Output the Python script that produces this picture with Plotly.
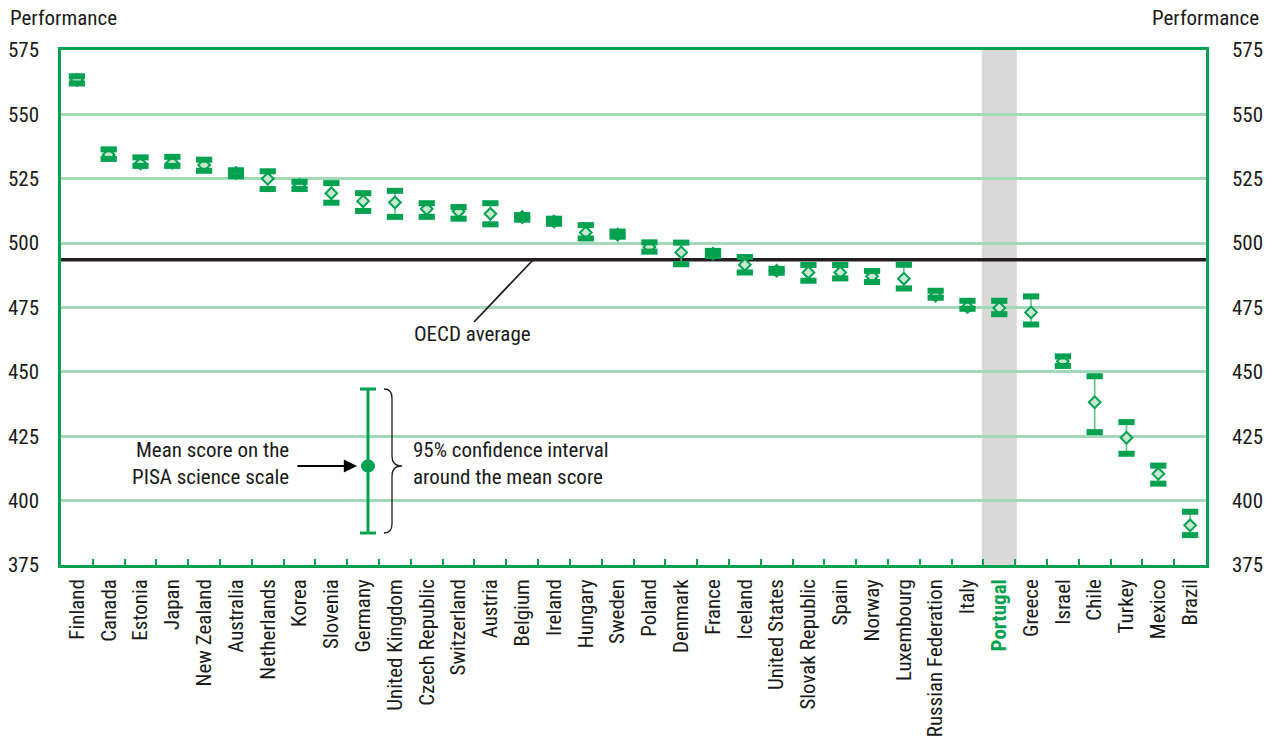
import plotly.graph_objects as go

countries = ["Finland", "Canada", "Estonia", "Japan", "New Zealand", "Australia", "Netherlands",
             "Korea", "Slovenia", "Germany", "United Kingdom", "Czech Republic", "Switzerland",
             "Austria", "Belgium", "Ireland", "Hungary", "Sweden", "Poland", "Denmark", "France",
             "Iceland", "United States", "Slovak Republic", "Spain", "Norway", "Luxembourg",
             "Russian Federation", "Italy", "Portugal", "Greece", "Israel", "Chile", "Turkey",
             "Mexico", "Brazil"]
mean_score = [563.4, 534.3, 530.9, 531.2, 530.3, 527.2, 525.0, 522.6, 519.4, 516.3, 515.8, 513.3,
              512.3, 511.4, 510.1, 508.4, 504.1, 503.3, 498.5, 496.4, 495.9, 491.6, 489.3, 488.6,
              488.6, 487.1, 486.2, 479.6, 475.2, 474.8, 473.1, 454.1, 438.2, 424.4, 410.4, 390.4]
ci_upper = [564.8, 536.4, 533.3, 533.5, 532.4, 528.3, 527.9, 523.8, 523.3, 519.4, 520.3, 515.5,
            514.0, 515.5, 510.9, 509.5, 507.0, 504.5, 500.3, 500.2, 497.0, 494.6, 490.0, 491.5,
            491.5, 489.2, 491.6, 481.5, 477.6, 477.6, 479.3, 456.0, 448.3, 430.5, 413.6, 395.7]
ci_lower = [562.0, 532.7, 530.0, 530.0, 528.1, 526.0, 521.0, 521.0, 515.7, 512.5, 510.2, 510.2,
            509.5, 507.3, 509.1, 507.5, 501.8, 502.5, 496.7, 491.8, 495.0, 488.6, 488.5, 485.4,
            486.3, 484.9, 482.4, 478.8, 474.5, 472.4, 468.4, 452.3, 426.6, 418.2, 406.6, 386.6]
oecd_average = 493.5
highlight = "Portugal"
y_ticks = [375, 400, 425, 450, 475, 500, 525, 550, 575]

GREEN = "#00A14F"
LIGHT = "#C6E7D1"
STEM = "#62C28A"
GRID = "#A4D9B8"
FONT = "Liberation Sans Narrow, Arial Narrow, Roboto Condensed, DejaVu Sans Condensed, sans-serif"

# page geometry: the browser adds an 8px body margin, so compensate
OFF = 8
W, H = 1273 - OFF, 747 - OFF
X0, X1, Y0, Y1 = 61, 1206, 50, 565   # plot area in page pixels
def px(x):
    return (x - X0) / (X1 - X0)
def py(y):
    return (Y1 - y) / (Y1 - Y0)

err_plus = [u - m for u, m in zip(ci_upper, mean_score)]
err_minus = [m - l for m, l in zip(mean_score, ci_lower)]

fig = go.Figure()
# stems
fig.add_trace(go.Scatter(
    x=countries, y=mean_score, mode="markers",
    marker=dict(size=1, color="rgba(0,0,0,0)"),
    error_y=dict(type="data", array=err_plus, arrayminus=err_minus, symmetric=False,
                 width=0, thickness=1.6, color=STEM),
    hoverinfo="skip", showlegend=False))
# means
fig.add_trace(go.Scatter(
    x=countries, y=mean_score, mode="markers",
    marker=dict(symbol="diamond", size=9, color=LIGHT, line=dict(color=GREEN, width=2)),
    showlegend=False))
# caps
fig.add_trace(go.Scatter(
    x=countries + countries, y=ci_upper + ci_lower, mode="markers",
    marker=dict(symbol="line-ew", size=11.6, color=GREEN, line=dict(color=GREEN, width=6)),
    hoverinfo="skip", showlegend=False))
# invisible trace for right axis
fig.add_trace(go.Scatter(x=countries, y=mean_score, yaxis="y2", mode="markers",
                         marker=dict(opacity=0), hoverinfo="skip", showlegend=False))

ticktext = [f"<b><span style='color:{GREEN}'>{c}</span></b>" if c == highlight else c
            for c in countries]
hi = countries.index(highlight)

shapes = [
    dict(type="rect", xref="x", yref="paper", x0=hi - 0.55, x1=hi + 0.55, y0=0, y1=1,
         fillcolor="#D9D9D9", line=dict(width=0), layer="below"),
    dict(type="rect", xref="paper", yref="paper", x0=px(104), x1=px(645), y0=py(545), y1=py(380),
         fillcolor="white", line=dict(width=0), layer="between"),
    dict(type="line", xref="paper", yref="y", x0=0, x1=1, y0=oecd_average, y1=oecd_average,
         line=dict(color="#231F20", width=3.5), layer="between"),
    dict(type="line", xref="paper", yref="paper", x0=px(533), y0=py(260), x1=px(474), y1=py(322),
         line=dict(color="#231F20", width=1.8)),
    # legend error bar
    dict(type="line", xref="paper", yref="paper", x0=px(368), x1=px(368), y0=py(389), y1=py(533),
         line=dict(color=GREEN, width=3)),
    dict(type="line", xref="paper", yref="paper", x0=px(360), x1=px(376), y0=py(389), y1=py(389),
         line=dict(color=GREEN, width=3)),
    dict(type="line", xref="paper", yref="paper", x0=px(360), x1=px(376), y0=py(533), y1=py(533),
         line=dict(color=GREEN, width=3)),
    dict(type="circle", xref="paper", yref="paper", xsizemode="pixel", ysizemode="pixel",
         xanchor=px(368), yanchor=py(466), x0=-7, x1=7, y0=-6.5, y1=6.5,
         fillcolor=GREEN, line=dict(width=0)),
    # curly brace
    dict(type="path", xref="paper", yref="paper",
         path=(f"M {px(384)},{py(389)} Q {px(392)},{py(389)} {px(392)},{py(398)} "
               f"L {px(392)},{py(456)} Q {px(392)},{py(466)} {px(402)},{py(466)} "
               f"Q {px(392)},{py(466)} {px(392)},{py(476)} "
               f"L {px(392)},{py(524)} Q {px(392)},{py(533)} {px(384)},{py(533)}"),
         line=dict(color="#231F20", width=1.3)),
]

annotations = [
    dict(text="Performance", xref="paper", yref="paper", x=px(8), y=py(18),
         xanchor="left", yanchor="middle", showarrow=False, font=dict(size=21)),
    dict(text="Performance", xref="paper", yref="paper", x=px(1261), y=py(18),
         xanchor="right", yanchor="middle", showarrow=False, font=dict(size=21)),
    dict(text="OECD average", xref="paper", yref="paper", x=px(472), y=py(334),
         xanchor="center", yanchor="middle", showarrow=False, font=dict(size=21)),
    dict(text="Mean score on the<br>PISA science scale", xref="paper", yref="paper",
         x=px(291), y=py(463), xanchor="right", yanchor="middle", align="right",
         showarrow=False, font=dict(size=21)),
    dict(text="95% confidence interval<br>around the mean score", xref="paper", yref="paper",
         x=px(411), y=py(463), xanchor="left", yanchor="middle", align="left",
         showarrow=False, font=dict(size=21)),
    dict(text="", xref="paper", yref="paper", x=px(357), y=py(466), ax=-61, ay=0,
         axref="pixel", ayref="pixel", showarrow=True, arrowhead=2, arrowsize=1.2,
         arrowwidth=2.2, arrowcolor="#000000", standoff=0),
]

fig.update_layout(
    width=W, height=H, autosize=False,
    margin=dict(l=X0 - OFF, r=W - (X1 - OFF), t=Y0 - OFF, b=H - (Y1 - OFF), pad=0,
                autoexpand=False),
    plot_bgcolor="white", paper_bgcolor="white",
    font=dict(family=FONT, size=21, color="#1a1a1a"),
    shapes=shapes, annotations=annotations,
    xaxis=dict(type="category", categoryorder="array", categoryarray=countries,
               range=[-0.5, len(countries) - 0.5], automargin=False,
               tickmode="array", tickvals=countries, ticktext=ticktext,
               tickangle=-90, tickfont=dict(size=21, color="#1a1a1a"),
               ticks="inside", tickson="boundaries", ticklen=6, tickwidth=2, tickcolor=GREEN,
               showline=True, linecolor=GREEN, linewidth=2.5, mirror=True,
               showgrid=False, zeroline=False, ticklabelstandoff=3),
    yaxis=dict(range=[375, 575], tickmode="array", tickvals=y_ticks, automargin=False,
               showgrid=True, gridcolor=GRID, gridwidth=2.5, zeroline=False,
               showline=True, linecolor=GREEN, linewidth=2.5,
               ticks="outside", ticklen=15, tickcolor="rgba(0,0,0,0)",
               tickfont=dict(size=21, color="#1a1a1a")),
    yaxis2=dict(range=[375, 575], tickmode="array", tickvals=y_ticks, overlaying="y",
                side="right", showgrid=False, zeroline=False, automargin=False,
                showline=True, linecolor=GREEN, linewidth=2.5,
                ticks="outside", ticklen=19, tickcolor="rgba(0,0,0,0)",
                tickfont=dict(size=21, color="#1a1a1a")),
)

fig.write_html("out.html")
